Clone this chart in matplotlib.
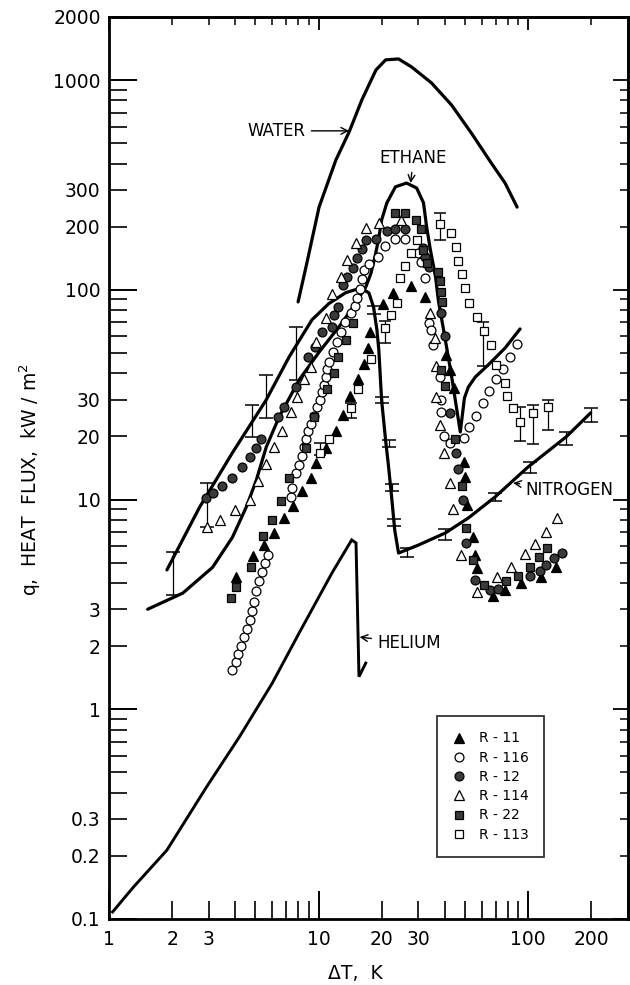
import numpy as np
import matplotlib
matplotlib.use("Agg")
import matplotlib.pyplot as plt
from matplotlib.ticker import FuncFormatter, NullFormatter, LogLocator

plt.rcParams['font.family'] = ['DejaVu Sans']

# ---- correlation curves: delta T (K) vs heat flux q (kW/m^2) ----
water_dt = [7.99, 8.72, 10.06, 12.1, 14.0, 16.1, 18.8, 20.9, 24.1, 27.8, 34.6, 43.1, 53.6, 66.7, 77.7, 88.7]
water_q = [87.6, 129, 248, 416, 566, 805, 1118, 1249, 1262, 1156, 970, 762, 560, 403, 323, 248]

ethane_dt = [1.53, 2.25, 3.12, 3.88, 4.52, 5.05, 5.63, 6.49, 8.08, 10.05, 12.5, 14.3, 16.8, 17.8,
             18.6, 19.4, 20.0, 21.2, 23.3, 26.3, 29.4, 31.7, 32.8, 34.2, 36.2, 37.3, 40.3, 43.2,
             47.5, 48.6, 49.7, 51.9, 56.0, 64.6, 77.7, 91.6]
ethane_q = [3.0, 3.58, 4.75, 6.6, 9.2, 12.4, 17.8, 24.8, 37.2, 50.4, 66.5, 80.2, 103, 120,
            144, 177, 215, 260, 310, 323, 306, 260, 200, 155, 115, 89.5, 57.7, 38.5,
            21.0, 25.3, 30.5, 34.4, 38.4, 43.9, 52.8, 65.1]

nitrogen_dt = [1.89, 2.71, 3.88, 5.63, 7.24, 9.31, 11.2, 13.5, 15.9, 17.4, 18.3, 19.0, 19.4, 20.0,
               20.9, 21.6, 22.4, 23.1, 24.1, 30.0, 40.3, 51.9, 69.7, 100, 152, 199]
nitrogen_q = [4.62, 9.22, 16.7, 29.9, 47.9, 72.0, 86.0, 97.0, 102, 96.7, 82.9, 64.4, 51.7, 29.9,
              19.2, 14.3, 9.96, 7.16, 5.56, 6.07, 6.93, 8.17, 10.3, 14.3, 19.9, 25.9]

helium_dt = [1.04, 1.30, 1.89, 2.92, 4.19, 6.01, 8.08, 11.6, 14.4, 15.1, 15.6, 16.8]
helium_q = [0.108, 0.141, 0.213, 0.426, 0.738, 1.33, 2.31, 4.47, 6.42, 6.21, 1.43, 1.66]

# nitrogen error bars (dT, lower q, upper q)
n2_err_dt = [2.01, 2.92, 4.83, 5.63, 7.82, 18.3, 20.0, 21.6, 22.4, 22.8, 26.4, 40.3, 69.7, 102, 152, 199]
n2_err_lo = [3.5, 7.4, 19.8, 24.5, 37.2, 77.0, 28.8, 17.9, 11.0, 7.5, 5.3, 6.4, 9.8, 13.4, 18.2, 23.5]
n2_err_hi = [5.6, 12.0, 28.1, 39.4, 66.5, 83.5, 31.0, 19.3, 11.8, 8.1, 5.9, 7.2, 10.7, 15.1, 21.0, 27.3]

# ---- refrigerant data points ----
r11_dt = [4.06, 4.88, 5.51, 6.15, 6.86, 7.56, 8.35, 9.21, 9.73, 10.9, 12.1, 13.1, 14.1, 15.4, 16.5,
          17.2, 17.6, 20.3, 22.6, 27.5, 32.1, 40.8, 42.2, 44.5, 49.7, 50.2, 51.3, 54.8, 56.0, 57.3,
          68.2, 77.7, 92.6, 115, 136]
r11_q = [4.27, 5.38, 6.07, 6.93, 8.17, 9.32, 11.0, 12.7, 14.9, 17.6, 21.2, 25.3, 31.2, 37.6, 44.3,
         52.8, 63.0, 85.7, 96.7, 104, 92.5, 48.9, 41.5, 34.1, 15.1, 12.8, 9.43, 6.63, 5.44, 4.72,
         3.47, 3.71, 4.00, 4.27, 4.77]

r116_dt = [3.88, 4.06, 4.15, 4.28, 4.43, 4.57, 4.73, 4.83, 4.94, 5.05, 5.22, 5.39, 5.57, 5.75,
           7.40, 7.48, 7.82, 8.08, 8.35, 8.53, 8.72, 8.92, 9.21, 9.52, 9.84, 10.2, 10.4, 10.6,
           10.9, 11.0, 11.2, 11.7, 12.2, 12.8, 13.4, 14.3, 14.9, 15.2, 15.7, 16.1, 16.5, 17.4,
           19.2, 20.7, 23.3, 26.0, 30.0, 30.7, 32.4, 33.5, 34.6, 35.0, 37.8, 38.6, 38.6, 39.5,
           42.2, 49.7, 52.5, 56.6, 61.1, 65.3, 70.5, 76.1, 82.1, 88.7]
r116_q = [1.54, 1.68, 1.84, 2.00, 2.21, 2.42, 2.67, 2.94, 3.25, 3.66, 4.09, 4.52, 4.99, 5.44,
          10.3, 11.4, 13.4, 14.6, 16.1, 17.8, 19.5, 21.2, 22.9, 25.0, 27.6, 29.9, 32.6, 35.2,
          38.4, 42.0, 45.3, 50.6, 56.4, 63.0, 70.3, 77.6, 83.8, 91.5, 101, 113, 124, 133,
          144, 162, 175, 175, 150, 136, 114, 69.5, 64.4, 54.6, 38.4, 29.9, 26.2, 20.1,
          18.6, 19.7, 22.2, 25.0, 28.9, 33.0, 37.6, 42.0, 47.9, 55.2]

r12_dt = [2.89, 3.12, 3.48, 3.88, 4.33, 4.73, 5.05, 5.33, 6.42, 6.86, 7.82, 8.92, 9.62, 10.4,
          11.6, 11.8, 12.4, 13.1, 13.7, 14.6, 15.2, 16.1, 16.8, 18.8, 21.2, 23.3, 26.0, 31.7,
          32.4, 33.5, 38.6, 40.3, 42.2, 45.5, 46.5, 49.1, 50.8, 56.0, 66.0, 72.0, 102, 114,
          122, 133, 145]
r12_q = [10.2, 10.8, 11.6, 12.7, 14.3, 16.0, 17.6, 19.5, 24.8, 27.6, 34.4, 47.9, 53.4, 63.0,
         66.5, 75.9, 82.9, 106, 115, 127, 142, 157, 173, 175, 191, 195, 195, 158,
         144, 129, 77.6, 60.3, 25.9, 16.7, 14.0, 9.96, 6.21, 4.14, 3.71, 3.75, 4.32, 4.57,
         4.88, 5.27, 5.56]

r114_dt = [2.92, 3.40, 4.01, 4.73, 5.16, 5.63, 6.15, 6.71, 7.40, 7.91, 8.53, 9.21, 9.73, 10.9,
           11.6, 12.8, 13.7, 15.1, 16.8, 19.4, 24.7, 34.2, 35.8, 36.2, 36.2, 38.2, 39.9, 42.2,
           43.6, 48.1, 57.3, 71.3, 83.0, 96.8, 108, 122, 137]
r114_q = [7.40, 7.99, 8.92, 9.96, 12.3, 14.8, 17.8, 21.2, 26.2, 30.9, 37.6, 42.9, 56.4, 73.5,
          95.6, 115, 139, 167, 197, 208, 215, 77.6, 59.0, 43.4, 30.9, 22.7, 16.7, 12.0,
          9.02, 5.44, 3.63, 4.27, 4.77, 5.50, 6.14, 7.01, 8.17]

r22_dt = [3.84, 4.06, 4.78, 5.45, 6.01, 6.64, 7.24, 8.72, 9.52, 11.0, 11.8, 12.4, 13.5, 14.6,
          23.3, 26.0, 29.1, 30.7, 31.7, 32.8, 37.0, 38.2, 38.6, 39.0, 38.6, 40.3, 45.0, 48.6,
          50.8, 54.8, 61.8, 78.6, 89.6, 102, 113, 123]
r22_q = [3.40, 3.83, 4.77, 6.71, 7.99, 9.85, 12.7, 17.6, 24.8, 33.7, 40.2, 47.9, 57.7, 69.5,
         233, 233, 215, 195, 155, 134, 122, 110, 97.7, 87.6, 41.5, 34.8, 19.5, 11.6,
         7.32, 5.15, 3.91, 4.09, 4.32, 4.77, 5.33, 5.88]

r113_dt = [10.2, 11.2, 14.3, 15.4, 17.8, 20.7, 22.1, 23.6, 24.4, 25.8, 27.5, 29.4, 37.8, 43.1,
           45.5, 46.5, 48.6, 50.2, 52.5, 57.3, 61.8, 66.7, 70.5, 77.7, 79.5, 84.9, 91.6, 106, 124]
r113_q = [16.7, 19.5, 27.3, 33.7, 46.8, 65.8, 75.9, 86.6, 114, 130, 150, 173, 206, 187,
          160, 137, 119, 102, 86.6, 74.3, 63.7, 54.6, 43.9, 36.0, 31.2, 27.3, 23.4, 25.9, 27.6]

r113_err_dt = [10.2, 14.3, 20.7, 37.8, 61.1, 91.6, 106, 124]
r113_err_lo = [16.3, 24.5, 56.0, 173, 43.4, 19.0, 18.5, 21.5]
r113_err_hi = [18.6, 28.9, 71.0, 233, 70.3, 27.7, 28.3, 29.9]

fig = plt.figure(figsize=(6.3, 9.85), dpi=100)
ax = fig.add_axes([109 / 630, 1 - 919 / 985, 519 / 630, 902 / 985])
ax.set_xscale('log')
ax.set_yscale('log')
ax.set_xlim(1, 300)
ax.set_ylim(0.1, 2000)

# curves
for xs, ys in [(water_dt, water_q), (ethane_dt, ethane_q), (nitrogen_dt, nitrogen_q)]:
    ax.plot(xs, ys, color='black', lw=2.3, solid_joinstyle='round', solid_capstyle='round', zorder=4)
ax.plot(helium_dt, helium_q, color='black', lw=2.1, solid_joinstyle='miter', zorder=4)

# error bars
lo = np.array(n2_err_lo); hi = np.array(n2_err_hi); mid = np.sqrt(lo * hi)
ax.errorbar(n2_err_dt, mid, yerr=[mid - lo, hi - mid], fmt='none', ecolor='black',
            elinewidth=0.9, capsize=5, capthick=1.1, zorder=3)
lo = np.array(r113_err_lo); hi = np.array(r113_err_hi); mid = np.sqrt(lo * hi)
ax.errorbar(r113_err_dt, mid, yerr=[mid - lo, hi - mid], fmt='none', ecolor='black',
            elinewidth=0.9, capsize=4, capthick=1.1, zorder=3)

# data points
mk = dict(linestyle='none', markeredgecolor='black', markeredgewidth=0.9, zorder=5)
h11, = ax.plot(r11_dt, r11_q, marker='^', ms=6.8, markerfacecolor='black', label='R - 11', **mk)
h116, = ax.plot(r116_dt, r116_q, marker='o', ms=6.4, markerfacecolor='white', label='R - 116', **mk)
h12, = ax.plot(r12_dt, r12_q, marker='o', ms=6.4, markerfacecolor='#3a3a3a', label='R - 12', **mk)
h114, = ax.plot(r114_dt, r114_q, marker='^', ms=6.8, markerfacecolor='white', label='R - 114', **mk)
h22, = ax.plot(r22_dt, r22_q, marker='s', ms=5.8, markerfacecolor='#3a3a3a', label='R - 22', **mk)
h113, = ax.plot(r113_dt, r113_q, marker='s', ms=5.8, markerfacecolor='white', label='R - 113', **mk)

# ticks
def fmt_x(v, pos):
    e = np.floor(np.log10(v) + 1e-9)
    m = int(round(v / 10 ** e))
    if m in (1, 2, 3) and v < 250:
        return '%g' % v
    return ''

def fmt_y(v, pos):
    e = np.floor(np.log10(v) + 1e-9)
    m = int(round(v / 10 ** e))
    if m in (1, 2, 3):
        return '%g' % v
    return ''

for axis, f in [(ax.xaxis, fmt_x), (ax.yaxis, fmt_y)]:
    axis.set_major_locator(LogLocator(base=10, numticks=20))
    axis.set_minor_locator(LogLocator(base=10, subs=np.arange(2, 10), numticks=20))
    axis.set_major_formatter(FuncFormatter(f))
    axis.set_minor_formatter(FuncFormatter(f))

ax.tick_params(which='both', direction='in', top=False, right=False, labelsize=13.5, color='black')
ax.tick_params(which='major', length=20, width=1.4)
ax.tick_params(which='minor', length=13, width=1.2)
ax.tick_params(axis='x', which='both', pad=8)
ax.tick_params(axis='y', which='both', pad=6)

top = ax.secondary_xaxis('top')
top.tick_params(which='major', direction='in', length=9, width=1.3)
top.tick_params(which='minor', direction='in', length=6, width=1.1)
top.xaxis.set_major_formatter(NullFormatter())
top.xaxis.set_minor_formatter(NullFormatter())
right = ax.secondary_yaxis('right')
right.tick_params(which='major', direction='in', length=11, width=1.3)
right.tick_params(which='minor', direction='in', length=6, width=1.1)
right.yaxis.set_major_formatter(NullFormatter())
right.yaxis.set_minor_formatter(NullFormatter())

for s in ax.spines.values():
    s.set_linewidth(2.0)
top.spines['top'].set_linewidth(1.8)
right.spines['right'].set_linewidth(1.8)

ax.set_xlabel('ΔT,  K', fontsize=13.5, va='center')
ax.xaxis.set_label_coords(0.474, -0.06)
ax.set_ylabel('q,  HEAT  FLUX,  kW / m$^2$', fontsize=13.5, va='center')
ax.yaxis.set_label_coords(-0.152, 0.487)

# labels with arrows
arrow = dict(arrowstyle='->', lw=1.0, color='black', shrinkA=2, shrinkB=0)
ax.annotate('WATER', xy=(14.0, 573), xytext=(8.7, 573), ha='right', va='center',
            fontsize=12, arrowprops=arrow)
ax.annotate('ETHANE', xy=(27.5, 323), xytext=(28.4, 426), ha='center', va='center',
            fontsize=12, arrowprops=arrow)
ax.annotate('NITROGEN', xy=(84.9, 12.0), xytext=(97.0, 11.1), ha='left', va='center',
            fontsize=12, arrowprops=arrow)
ax.annotate('HELIUM', xy=(15.7, 2.21), xytext=(19.0, 2.07), ha='left', va='center',
            fontsize=12, arrowprops=arrow)

leg = ax.legend(handles=[h11, h116, h12, h114, h22, h113], loc='lower left',
                bbox_to_anchor=(0.632, 0.0687), borderaxespad=0, frameon=True, fancybox=False,
                edgecolor='black', fontsize=10, handlelength=1.0, handletextpad=0.9,
                labelspacing=0.38, borderpad=1.1)
leg.get_frame().set_linewidth(1.3)

fig.savefig('out.png', dpi=100)
